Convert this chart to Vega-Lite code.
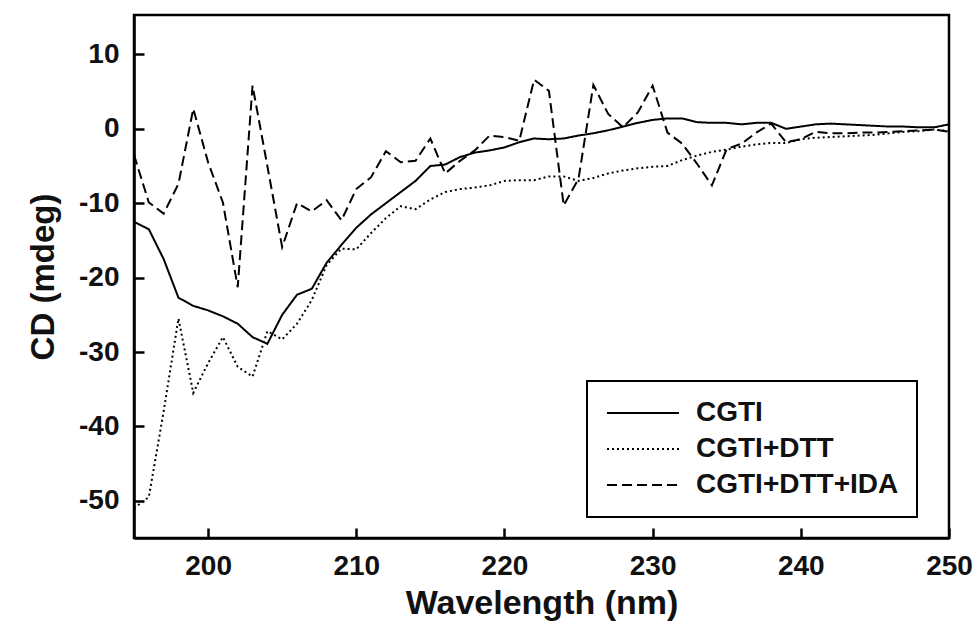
{
  "$schema": "https://vega.github.io/schema/vega-lite/v6.json",
  "width": 815,
  "height": 523,
  "autosize": {"type": "none"},
  "padding": {"left": 134, "top": 15, "right": 27, "bottom": 88},
  "background": "white",
  "config": {
    "view": {"stroke": "black", "strokeWidth": 2.5},
    "axis": {
      "labelFont": "Liberation Sans",
      "labelFontWeight": "bold",
      "labelFontSize": 28,
      "labelColor": "#111",
      "titleFont": "Liberation Sans",
      "titleFontWeight": "bold",
      "titleColor": "#111",
      "grid": false
    },
    "legend": {
      "labelFont": "Liberation Sans",
      "labelFontWeight": "bold",
      "labelFontSize": 28,
      "labelColor": "#111",
      "labelLimit": 500
    }
  },
  "data": {
    "values": [
      {"sample":"CGTI","wl":195,"cd":-12.5},{"sample":"CGTI","wl":196,"cd":-13.5},{"sample":"CGTI","wl":197,"cd":-17.5},{"sample":"CGTI","wl":198,"cd":-22.7},{"sample":"CGTI","wl":199,"cd":-23.8},{"sample":"CGTI","wl":200,"cd":-24.4},{"sample":"CGTI","wl":201,"cd":-25.2},{"sample":"CGTI","wl":202,"cd":-26.2},{"sample":"CGTI","wl":203,"cd":-28.0},{"sample":"CGTI","wl":204,"cd":-28.9},{"sample":"CGTI","wl":205,"cd":-25.0},{"sample":"CGTI","wl":206,"cd":-22.3},{"sample":"CGTI","wl":207,"cd":-21.5},{"sample":"CGTI","wl":208,"cd":-18.0},{"sample":"CGTI","wl":209,"cd":-15.6},{"sample":"CGTI","wl":210,"cd":-13.3},{"sample":"CGTI","wl":211,"cd":-11.5},{"sample":"CGTI","wl":212,"cd":-10.0},{"sample":"CGTI","wl":213,"cd":-8.5},{"sample":"CGTI","wl":214,"cd":-7.0},{"sample":"CGTI","wl":215,"cd":-5.0},{"sample":"CGTI","wl":216,"cd":-4.8},{"sample":"CGTI","wl":217,"cd":-3.8},{"sample":"CGTI","wl":218,"cd":-3.2},{"sample":"CGTI","wl":219,"cd":-2.9},{"sample":"CGTI","wl":220,"cd":-2.5},{"sample":"CGTI","wl":221,"cd":-1.8},{"sample":"CGTI","wl":222,"cd":-1.3},{"sample":"CGTI","wl":223,"cd":-1.4},{"sample":"CGTI","wl":224,"cd":-1.3},{"sample":"CGTI","wl":225,"cd":-0.9},{"sample":"CGTI","wl":226,"cd":-0.6},{"sample":"CGTI","wl":227,"cd":-0.2},{"sample":"CGTI","wl":228,"cd":0.3},{"sample":"CGTI","wl":229,"cd":0.8},{"sample":"CGTI","wl":230,"cd":1.2},{"sample":"CGTI","wl":231,"cd":1.4},{"sample":"CGTI","wl":232,"cd":1.4},{"sample":"CGTI","wl":233,"cd":0.9},{"sample":"CGTI","wl":234,"cd":0.8},{"sample":"CGTI","wl":235,"cd":0.8},{"sample":"CGTI","wl":236,"cd":0.6},{"sample":"CGTI","wl":237,"cd":0.8},{"sample":"CGTI","wl":238,"cd":0.8},{"sample":"CGTI","wl":239,"cd":0.0},{"sample":"CGTI","wl":240,"cd":0.3},{"sample":"CGTI","wl":241,"cd":0.6},{"sample":"CGTI","wl":242,"cd":0.7},{"sample":"CGTI","wl":243,"cd":0.6},{"sample":"CGTI","wl":244,"cd":0.5},{"sample":"CGTI","wl":245,"cd":0.4},{"sample":"CGTI","wl":246,"cd":0.3},{"sample":"CGTI","wl":247,"cd":0.3},{"sample":"CGTI","wl":248,"cd":0.2},{"sample":"CGTI","wl":249,"cd":0.2},{"sample":"CGTI","wl":250,"cd":0.6},
      {"sample":"CGTI+DTT","wl":195,"cd":-51.0},{"sample":"CGTI+DTT","wl":196,"cd":-49.5},{"sample":"CGTI+DTT","wl":197,"cd":-38.0},{"sample":"CGTI+DTT","wl":198,"cd":-25.5},{"sample":"CGTI+DTT","wl":199,"cd":-35.5},{"sample":"CGTI+DTT","wl":200,"cd":-31.5},{"sample":"CGTI+DTT","wl":201,"cd":-28.0},{"sample":"CGTI+DTT","wl":202,"cd":-32.0},{"sample":"CGTI+DTT","wl":203,"cd":-33.3},{"sample":"CGTI+DTT","wl":204,"cd":-27.2},{"sample":"CGTI+DTT","wl":205,"cd":-28.3},{"sample":"CGTI+DTT","wl":206,"cd":-26.2},{"sample":"CGTI+DTT","wl":207,"cd":-23.0},{"sample":"CGTI+DTT","wl":208,"cd":-18.3},{"sample":"CGTI+DTT","wl":209,"cd":-16.1},{"sample":"CGTI+DTT","wl":210,"cd":-16.2},{"sample":"CGTI+DTT","wl":211,"cd":-14.0},{"sample":"CGTI+DTT","wl":212,"cd":-12.0},{"sample":"CGTI+DTT","wl":213,"cd":-10.4},{"sample":"CGTI+DTT","wl":214,"cd":-10.8},{"sample":"CGTI+DTT","wl":215,"cd":-9.5},{"sample":"CGTI+DTT","wl":216,"cd":-8.5},{"sample":"CGTI+DTT","wl":217,"cd":-8.1},{"sample":"CGTI+DTT","wl":218,"cd":-7.9},{"sample":"CGTI+DTT","wl":219,"cd":-7.6},{"sample":"CGTI+DTT","wl":220,"cd":-7.0},{"sample":"CGTI+DTT","wl":221,"cd":-6.9},{"sample":"CGTI+DTT","wl":222,"cd":-6.9},{"sample":"CGTI+DTT","wl":223,"cd":-6.4},{"sample":"CGTI+DTT","wl":224,"cd":-6.4},{"sample":"CGTI+DTT","wl":225,"cd":-7.0},{"sample":"CGTI+DTT","wl":226,"cd":-6.6},{"sample":"CGTI+DTT","wl":227,"cd":-6.0},{"sample":"CGTI+DTT","wl":228,"cd":-5.6},{"sample":"CGTI+DTT","wl":229,"cd":-5.3},{"sample":"CGTI+DTT","wl":230,"cd":-5.1},{"sample":"CGTI+DTT","wl":231,"cd":-5.0},{"sample":"CGTI+DTT","wl":232,"cd":-4.2},{"sample":"CGTI+DTT","wl":233,"cd":-3.6},{"sample":"CGTI+DTT","wl":234,"cd":-3.1},{"sample":"CGTI+DTT","wl":235,"cd":-2.8},{"sample":"CGTI+DTT","wl":236,"cd":-2.4},{"sample":"CGTI+DTT","wl":237,"cd":-2.1},{"sample":"CGTI+DTT","wl":238,"cd":-1.9},{"sample":"CGTI+DTT","wl":239,"cd":-1.9},{"sample":"CGTI+DTT","wl":240,"cd":-1.4},{"sample":"CGTI+DTT","wl":241,"cd":-1.2},{"sample":"CGTI+DTT","wl":242,"cd":-1.1},{"sample":"CGTI+DTT","wl":243,"cd":-1.0},{"sample":"CGTI+DTT","wl":244,"cd":-0.9},{"sample":"CGTI+DTT","wl":245,"cd":-0.8},{"sample":"CGTI+DTT","wl":246,"cd":-0.6},{"sample":"CGTI+DTT","wl":247,"cd":-0.4},{"sample":"CGTI+DTT","wl":248,"cd":-0.3},{"sample":"CGTI+DTT","wl":249,"cd":-0.1},{"sample":"CGTI+DTT","wl":250,"cd":-0.3},
      {"sample":"CGTI+DTT+IDA","wl":195,"cd":-3.5},{"sample":"CGTI+DTT+IDA","wl":196,"cd":-9.9},{"sample":"CGTI+DTT+IDA","wl":197,"cd":-11.4},{"sample":"CGTI+DTT+IDA","wl":198,"cd":-7.4},{"sample":"CGTI+DTT+IDA","wl":199,"cd":2.7},{"sample":"CGTI+DTT+IDA","wl":200,"cd":-4.5},{"sample":"CGTI+DTT+IDA","wl":201,"cd":-9.9},{"sample":"CGTI+DTT+IDA","wl":202,"cd":-21.3},{"sample":"CGTI+DTT+IDA","wl":203,"cd":5.8},{"sample":"CGTI+DTT+IDA","wl":204,"cd":-5.0},{"sample":"CGTI+DTT+IDA","wl":205,"cd":-15.9},{"sample":"CGTI+DTT+IDA","wl":206,"cd":-10.0},{"sample":"CGTI+DTT+IDA","wl":207,"cd":-11.1},{"sample":"CGTI+DTT+IDA","wl":208,"cd":-9.6},{"sample":"CGTI+DTT+IDA","wl":209,"cd":-12.3},{"sample":"CGTI+DTT+IDA","wl":210,"cd":-8.1},{"sample":"CGTI+DTT+IDA","wl":211,"cd":-6.5},{"sample":"CGTI+DTT+IDA","wl":212,"cd":-3.0},{"sample":"CGTI+DTT+IDA","wl":213,"cd":-4.5},{"sample":"CGTI+DTT+IDA","wl":214,"cd":-4.3},{"sample":"CGTI+DTT+IDA","wl":215,"cd":-1.3},{"sample":"CGTI+DTT+IDA","wl":216,"cd":-6.0},{"sample":"CGTI+DTT+IDA","wl":217,"cd":-4.3},{"sample":"CGTI+DTT+IDA","wl":218,"cd":-2.9},{"sample":"CGTI+DTT+IDA","wl":219,"cd":-0.9},{"sample":"CGTI+DTT+IDA","wl":220,"cd":-1.1},{"sample":"CGTI+DTT+IDA","wl":221,"cd":-1.6},{"sample":"CGTI+DTT+IDA","wl":222,"cd":6.6},{"sample":"CGTI+DTT+IDA","wl":223,"cd":5.1},{"sample":"CGTI+DTT+IDA","wl":224,"cd":-10.3},{"sample":"CGTI+DTT+IDA","wl":225,"cd":-6.7},{"sample":"CGTI+DTT+IDA","wl":226,"cd":5.9},{"sample":"CGTI+DTT+IDA","wl":227,"cd":2.0},{"sample":"CGTI+DTT+IDA","wl":228,"cd":0.2},{"sample":"CGTI+DTT+IDA","wl":229,"cd":2.2},{"sample":"CGTI+DTT+IDA","wl":230,"cd":5.8},{"sample":"CGTI+DTT+IDA","wl":231,"cd":-0.5},{"sample":"CGTI+DTT+IDA","wl":232,"cd":-2.0},{"sample":"CGTI+DTT+IDA","wl":233,"cd":-4.7},{"sample":"CGTI+DTT+IDA","wl":234,"cd":-7.6},{"sample":"CGTI+DTT+IDA","wl":235,"cd":-2.7},{"sample":"CGTI+DTT+IDA","wl":236,"cd":-2.0},{"sample":"CGTI+DTT+IDA","wl":237,"cd":-0.5},{"sample":"CGTI+DTT+IDA","wl":238,"cd":0.7},{"sample":"CGTI+DTT+IDA","wl":239,"cd":-1.8},{"sample":"CGTI+DTT+IDA","wl":240,"cd":-1.4},{"sample":"CGTI+DTT+IDA","wl":241,"cd":-0.4},{"sample":"CGTI+DTT+IDA","wl":242,"cd":-0.6},{"sample":"CGTI+DTT+IDA","wl":243,"cd":-0.6},{"sample":"CGTI+DTT+IDA","wl":244,"cd":-0.5},{"sample":"CGTI+DTT+IDA","wl":245,"cd":-0.5},{"sample":"CGTI+DTT+IDA","wl":246,"cd":-0.4},{"sample":"CGTI+DTT+IDA","wl":247,"cd":-0.3},{"sample":"CGTI+DTT+IDA","wl":248,"cd":-0.2},{"sample":"CGTI+DTT+IDA","wl":249,"cd":-0.1},{"sample":"CGTI+DTT+IDA","wl":250,"cd":-0.4}
    ]
  },
  "mark": {"type": "line", "color": "black", "strokeWidth": 2, "clip": true},
  "encoding": {
    "x": {
      "field": "wl", "type": "quantitative",
      "scale": {"domain": [195, 250], "nice": false, "zero": false},
      "axis": {"tickCount": 6, "title": "Wavelength (nm)", "titleFontSize": 34, "domain": true, "domainColor": "black", "domainWidth": 2.5, "ticks": true, "tickSize": -10, "tickWidth": 2.5, "tickColor": "black", "labelPadding": 24, "titlePadding": 6, "labelFlush": false, "zindex": 1}
    },
    "y": {
      "field": "cd", "type": "quantitative",
      "scale": {"domain": [-55, 15.3], "nice": false, "zero": false},
      "axis": {"tickCount": 7, "labelExpr": "'' + datum.value", "title": "CD (mdeg)", "titleFontSize": 33, "domain": true, "domainColor": "black", "domainWidth": 2.5, "ticks": true, "tickSize": -10, "tickWidth": 2.5, "tickColor": "black", "labelPadding": 25, "titlePadding": 18, "zindex": 1}
    },
    "strokeDash": {
      "field": "sample", "type": "nominal",
      "scale": {"domain": ["CGTI", "CGTI+DTT", "CGTI+DTT+IDA"], "range": [[1, 0], [2, 3], [10, 5]]},
      "legend": {
        "title": null,
        "orient": "none",
        "legendX": 453,
        "legendY": 366,
        "strokeColor": "black",
        "padding": 18,
        "symbolType": "M-1,0H5",
        "symbolSize": 576,
        "symbolStrokeWidth": 2,
        "symbolStrokeColor": "black",
        "labelOffset": 63,
        "rowPadding": 8,
        "encode": {"legend": {"update": {"strokeWidth": {"value": 2}}}}
      }
    }
  }
}
